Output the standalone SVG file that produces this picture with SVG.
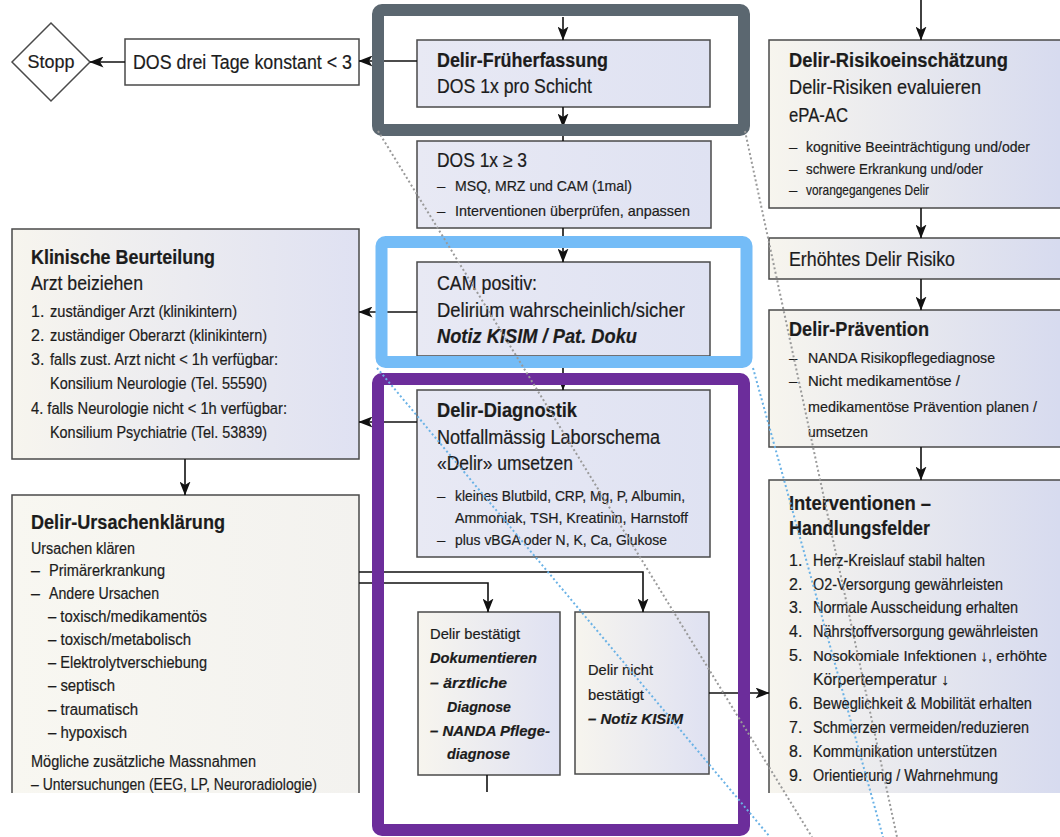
<svg xmlns="http://www.w3.org/2000/svg" width="1060" height="837" viewBox="0 0 1060 837">
<defs>
<linearGradient id="gC" x1="0" y1="0" x2="1" y2="0"><stop offset="0" stop-color="#e8e9f4"/><stop offset="1" stop-color="#dfe2f2"/></linearGradient>
<linearGradient id="gL" x1="0" y1="0" x2="1" y2="0"><stop offset="0" stop-color="#f7f5ee"/><stop offset="1" stop-color="#dfe1f2"/></linearGradient>
<linearGradient id="gR" x1="0" y1="0" x2="1" y2="0"><stop offset="0" stop-color="#f7f5ee"/><stop offset="1" stop-color="#d6daef"/></linearGradient>
<linearGradient id="gU" x1="0" y1="0" x2="1" y2="0"><stop offset="0" stop-color="#f8f7f1"/><stop offset="1" stop-color="#f3f2ef"/></linearGradient>
<marker id="ah" markerWidth="14" markerHeight="11" refX="13.5" refY="5.5" orient="auto" markerUnits="userSpaceOnUse"><path d="M0,0 L14,5.5 L0,11 L3.5,5.5 z" fill="#111"/></marker>
<style>
.b{stroke:#4a4a4a;stroke-width:1.5}
text{font-family:"Liberation Sans","DejaVu Sans",Arial,sans-serif;fill:#1c1c1c;stroke:#1c1c1c;stroke-width:0.2}
.t{font-size:19.5px;font-weight:bold}
.m{font-size:19.5px}
.s{font-size:15px}
.n{font-size:16px}
.bi{font-weight:bold;font-style:italic}
.c{stroke:#111;stroke-width:1.6;fill:none}
.dg{stroke:#9a9a9a;stroke-width:2;stroke-dasharray:2 2.5;fill:none}
.db{stroke:#6ab2e6;stroke-width:2;stroke-dasharray:2 2.5;fill:none}
</style>
</defs>
<rect width="1060" height="837" fill="#fff"/>

<g id="stopp">
<polygon points="12,62 51,23 90,62 51,101" fill="#fff" class="b"/>
<text x="51" y="68" font-size="18" text-anchor="middle" textLength="47" lengthAdjust="spacingAndGlyphs">Stopp</text>
</g>

<g id="dos-drei">
<rect x="125" y="39" width="234" height="46" fill="#fff" class="b"/>
<text x="133" y="69" font-size="20" textLength="219" lengthAdjust="spacingAndGlyphs">DOS drei Tage konstant &lt; 3</text>
</g>

<g id="frueherfassung">
<rect x="417" y="40" width="293" height="67" fill="url(#gC)" class="b"/>
<text x="437" y="67" class="t" textLength="171" lengthAdjust="spacingAndGlyphs">Delir-Früherfassung</text>
<text x="437" y="93" class="m" textLength="155" lengthAdjust="spacingAndGlyphs">DOS 1x pro Schicht</text>
</g>

<g id="dos-ge3">
<rect x="417" y="141" width="294" height="87" fill="url(#gC)" class="b"/>
<text x="437" y="167" class="m" textLength="90" lengthAdjust="spacingAndGlyphs">DOS 1x ≥ 3</text>
<text x="437" y="191" class="s">–</text>
<text x="455" y="191" class="s" textLength="177" lengthAdjust="spacingAndGlyphs">MSQ, MRZ und CAM (1mal)</text>
<text x="437" y="216" class="s">–</text>
<text x="455" y="216" class="s" textLength="235" lengthAdjust="spacingAndGlyphs">Interventionen überprüfen, anpassen</text>
</g>

<g id="cam">
<rect x="417" y="262" width="293" height="94" fill="url(#gC)" class="b"/>
<text x="437" y="290" class="m" textLength="100" lengthAdjust="spacingAndGlyphs">CAM positiv:</text>
<text x="437" y="317" class="m" textLength="248" lengthAdjust="spacingAndGlyphs">Delirium wahrscheinlich/sicher</text>
<text x="437" y="343" class="m bi" textLength="200" lengthAdjust="spacingAndGlyphs">Notiz KISIM / Pat. Doku</text>
</g>

<g id="diagnostik">
<rect x="417" y="390" width="293" height="167" fill="url(#gC)" class="b"/>
<text x="437" y="417" class="t" textLength="140" lengthAdjust="spacingAndGlyphs">Delir-Diagnostik</text>
<text x="437" y="444" class="m" textLength="223" lengthAdjust="spacingAndGlyphs">Notfallmässig Laborschema</text>
<text x="437" y="470" class="m" textLength="136" lengthAdjust="spacingAndGlyphs">«Delir» umsetzen</text>
<text x="437" y="501" class="s">–</text>
<text x="455" y="501" class="s" textLength="230" lengthAdjust="spacingAndGlyphs">kleines Blutbild, CRP, Mg, P, Albumin,</text>
<text x="455" y="523" class="s" textLength="233" lengthAdjust="spacingAndGlyphs">Ammoniak, TSH, Kreatinin, Harnstoff</text>
<text x="437" y="545" class="s">–</text>
<text x="455" y="545" class="s" textLength="212" lengthAdjust="spacingAndGlyphs">plus vBGA oder N, K, Ca, Glukose</text>
</g>

<g id="bestaetigt">
<rect x="418" y="612" width="142" height="163" fill="url(#gL)" class="b"/>
<text x="430" y="639" font-size="15.5" textLength="90" lengthAdjust="spacingAndGlyphs">Delir bestätigt</text>
<text x="430" y="663" font-size="15.5" class="bi" textLength="107" lengthAdjust="spacingAndGlyphs">Dokumentieren</text>
<text x="430" y="688" font-size="15.5" class="bi" textLength="77" lengthAdjust="spacingAndGlyphs">– ärztliche</text>
<text x="447" y="712" font-size="15.5" class="bi" textLength="64" lengthAdjust="spacingAndGlyphs">Diagnose</text>
<text x="430" y="736" font-size="15.5" class="bi" textLength="120" lengthAdjust="spacingAndGlyphs">– NANDA Pflege-</text>
<text x="447" y="759" font-size="15.5" class="bi" textLength="63" lengthAdjust="spacingAndGlyphs">diagnose</text>
</g>

<g id="nicht-bestaetigt">
<rect x="575" y="612" width="134" height="162" fill="url(#gL)" class="b"/>
<text x="588" y="675" font-size="15.5" textLength="65" lengthAdjust="spacingAndGlyphs">Delir nicht</text>
<text x="588" y="700" font-size="15.5" textLength="56" lengthAdjust="spacingAndGlyphs">bestätigt</text>
<text x="588" y="724" font-size="15.5" class="bi" textLength="95" lengthAdjust="spacingAndGlyphs">– Notiz KISIM</text>
</g>

<g id="klinische-beurteilung">
<rect x="12" y="229" width="347" height="230" fill="url(#gL)" class="b"/>
<text x="31" y="264" class="t" textLength="184" lengthAdjust="spacingAndGlyphs">Klinische Beurteilung</text>
<text x="31" y="290" class="m" textLength="112" lengthAdjust="spacingAndGlyphs">Arzt beiziehen</text>
<text x="31" y="317" class="n">1.</text>
<text x="50" y="317" class="n" textLength="187" lengthAdjust="spacingAndGlyphs">zuständiger Arzt (klinikintern)</text>
<text x="31" y="341" class="n">2.</text>
<text x="50" y="341" class="n" textLength="217" lengthAdjust="spacingAndGlyphs">zuständiger Oberarzt (klinikintern)</text>
<text x="31" y="365" class="n">3.</text>
<text x="50" y="365" class="n" textLength="228" lengthAdjust="spacingAndGlyphs">falls zust. Arzt nicht &lt; 1h verfügbar:</text>
<text x="50" y="389" class="n" textLength="217" lengthAdjust="spacingAndGlyphs">Konsilium Neurologie (Tel. 55590)</text>
<text x="31" y="414" class="n" textLength="256" lengthAdjust="spacingAndGlyphs">4. falls Neurologie nicht &lt; 1h verfügbar:</text>
<text x="50" y="438" class="n" textLength="217" lengthAdjust="spacingAndGlyphs">Konsilium Psychiatrie (Tel. 53839)</text>
</g>

<g id="ursachenklaerung">
<rect x="12" y="495" width="347" height="298" fill="url(#gU)"/>
<path d="M12,793 V495 H359 V793" fill="none" class="b"/>
<text x="31" y="529" class="t" textLength="194" lengthAdjust="spacingAndGlyphs">Delir-Ursachenklärung</text>
<text x="31" y="554" class="n" textLength="104" lengthAdjust="spacingAndGlyphs">Ursachen klären</text>
<text x="31" y="576" class="n">–</text>
<text x="49" y="576" class="n" textLength="116" lengthAdjust="spacingAndGlyphs">Primärerkrankung</text>
<text x="31" y="599" class="n">–</text>
<text x="49" y="599" class="n" textLength="110" lengthAdjust="spacingAndGlyphs">Andere Ursachen</text>
<text x="48" y="622" class="n" textLength="159" lengthAdjust="spacingAndGlyphs">– toxisch/medikamentös</text>
<text x="48" y="645" class="n" textLength="143" lengthAdjust="spacingAndGlyphs">– toxisch/metabolisch</text>
<text x="48" y="668" class="n" textLength="159" lengthAdjust="spacingAndGlyphs">– Elektrolytverschiebung</text>
<text x="48" y="691" class="n" textLength="67" lengthAdjust="spacingAndGlyphs">– septisch</text>
<text x="48" y="715" class="n" textLength="90" lengthAdjust="spacingAndGlyphs">– traumatisch</text>
<text x="48" y="738" class="n" textLength="79" lengthAdjust="spacingAndGlyphs">– hypoxisch</text>
<text x="31" y="767" class="n" textLength="225" lengthAdjust="spacingAndGlyphs">Mögliche zusätzliche Massnahmen</text>
<text x="31" y="790" class="n" textLength="286" lengthAdjust="spacingAndGlyphs">– Untersuchungen (EEG, LP, Neuroradiologie)</text>
</g>

<g id="risikoeinschaetzung">
<rect x="769" y="40" width="300" height="168" fill="url(#gR)" class="b"/>
<text x="789" y="67" class="t" textLength="219" lengthAdjust="spacingAndGlyphs">Delir-Risikoeinschätzung</text>
<text x="789" y="94" class="m" textLength="192" lengthAdjust="spacingAndGlyphs">Delir-Risiken evaluieren</text>
<text x="789" y="122" class="m" textLength="59" lengthAdjust="spacingAndGlyphs">ePA-AC</text>
<text x="789" y="152" class="s">–</text>
<text x="806" y="152" class="s" textLength="224" lengthAdjust="spacingAndGlyphs">kognitive Beeinträchtigung und/oder</text>
<text x="789" y="174" class="s">–</text>
<text x="806" y="174" class="s" textLength="177" lengthAdjust="spacingAndGlyphs">schwere Erkrankung und/oder</text>
<text x="789" y="195" class="s">–</text>
<text x="806" y="195" class="s" textLength="123" lengthAdjust="spacingAndGlyphs">vorangegangenes Delir</text>
</g>

<g id="erhoehtes-risiko">
<rect x="769" y="238" width="300" height="41" fill="url(#gR)" class="b"/>
<text x="789" y="266" class="m" textLength="166" lengthAdjust="spacingAndGlyphs">Erhöhtes Delir Risiko</text>
</g>

<g id="praevention">
<rect x="769" y="310" width="300" height="137" fill="url(#gR)" class="b"/>
<text x="789" y="336" class="t" textLength="140" lengthAdjust="spacingAndGlyphs">Delir-Prävention</text>
<text x="789" y="363" class="s">–</text>
<text x="808" y="363" class="s" textLength="187" lengthAdjust="spacingAndGlyphs">NANDA Risikopflegediagnose</text>
<text x="789" y="386" class="s">–</text>
<text x="808" y="386" class="s" textLength="152" lengthAdjust="spacingAndGlyphs">Nicht medikamentöse /</text>
<text x="808" y="412" class="s" textLength="229" lengthAdjust="spacingAndGlyphs">medikamentöse Prävention planen /</text>
<text x="808" y="437" class="s" textLength="60" lengthAdjust="spacingAndGlyphs">umsetzen</text>
</g>

<g id="interventionen">
<rect x="769" y="480" width="300" height="313" fill="url(#gR)"/>
<path d="M769,793 V480 H1069" fill="none" class="b"/>
<text x="789" y="510" class="t" textLength="142" lengthAdjust="spacingAndGlyphs">Interventionen –</text>
<text x="789" y="535" class="t" textLength="141" lengthAdjust="spacingAndGlyphs">Handlungsfelder</text>
<text x="789" y="566" class="n">1.</text>
<text x="813" y="566" class="n" textLength="172" lengthAdjust="spacingAndGlyphs">Herz-Kreislauf stabil halten</text>
<text x="789" y="590" class="n">2.</text>
<text x="813" y="590" class="n" textLength="190" lengthAdjust="spacingAndGlyphs">O2-Versorgung gewährleisten</text>
<text x="789" y="613" class="n">3.</text>
<text x="813" y="613" class="n" textLength="205" lengthAdjust="spacingAndGlyphs">Normale Ausscheidung erhalten</text>
<text x="789" y="637" class="n">4.</text>
<text x="813" y="637" class="n" textLength="225" lengthAdjust="spacingAndGlyphs">Nährstoffversorgung gewährleisten</text>
<text x="789" y="661" class="n">5.</text>
<text x="813" y="661" font-size="15" textLength="234" lengthAdjust="spacingAndGlyphs">Nosokomiale Infektionen ↓, erhöhte</text>
<text x="813" y="685" class="n" textLength="136" lengthAdjust="spacingAndGlyphs">Körpertemperatur ↓</text>
<text x="789" y="709" class="n">6.</text>
<text x="813" y="709" class="n" textLength="219" lengthAdjust="spacingAndGlyphs">Beweglichkeit &amp; Mobilität erhalten</text>
<text x="789" y="733" class="n">7.</text>
<text x="813" y="733" class="n" textLength="216" lengthAdjust="spacingAndGlyphs">Schmerzen vermeiden/reduzieren</text>
<text x="789" y="757" class="n">8.</text>
<text x="813" y="757" class="n" textLength="184" lengthAdjust="spacingAndGlyphs">Kommunikation unterstützen</text>
<text x="789" y="781" class="n">9.</text>
<text x="813" y="781" class="n" textLength="185" lengthAdjust="spacingAndGlyphs">Orientierung / Wahrnehmung</text>
</g>

<g id="connectors">
<path class="c" d="M563,17 V40" marker-end="url(#ah)"/>
<path class="c" d="M563,107 V127" marker-end="url(#ah)"/>
<path class="c" d="M563,127 V141"/>
<path class="c" d="M417,61 H359" marker-end="url(#ah)"/>
<path class="c" d="M125,62 H90" marker-end="url(#ah)"/>
<path class="c" d="M563,228 V262" marker-end="url(#ah)"/>
<path class="c" d="M417,312 H359" marker-end="url(#ah)"/>
<path class="c" d="M563,356 V390" marker-end="url(#ah)"/>
<path class="c" d="M417,422 H359" marker-end="url(#ah)"/>
<path class="c" d="M185,459 V495" marker-end="url(#ah)"/>
<path class="c" d="M359,583 H488 V612" marker-end="url(#ah)"/>
<path class="c" d="M359,572 H643 V612" marker-end="url(#ah)"/>
<path class="c" d="M487,775 V792"/>
<path class="c" d="M709,693 H769" marker-end="url(#ah)"/>
<path class="c" d="M921,0 V40" marker-end="url(#ah)"/>
<path class="c" d="M921,208 V238" marker-end="url(#ah)"/>
<path class="c" d="M921,279 V310" marker-end="url(#ah)"/>
<path class="c" d="M921,447 V480" marker-end="url(#ah)"/>
</g>

<g id="highlights" fill="none">
<rect x="378" y="10" width="366" height="120" rx="4" stroke="#5b6770" stroke-width="12"/>
<rect x="381.5" y="242" width="365" height="120" rx="4" stroke="#74bcf7" stroke-width="12"/>
<rect x="378" y="379" width="366" height="451" rx="4" stroke="#6c2d9b" stroke-width="12"/>
</g>

<g id="zoom-lines">
<path class="dg" d="M378,131 L812,837"/>
<path class="dg" d="M745,131 L897,837"/>
<path class="db" d="M377,368 L770,837"/>
<path class="db" d="M753,368 L883,837"/>
</g>
</svg>
